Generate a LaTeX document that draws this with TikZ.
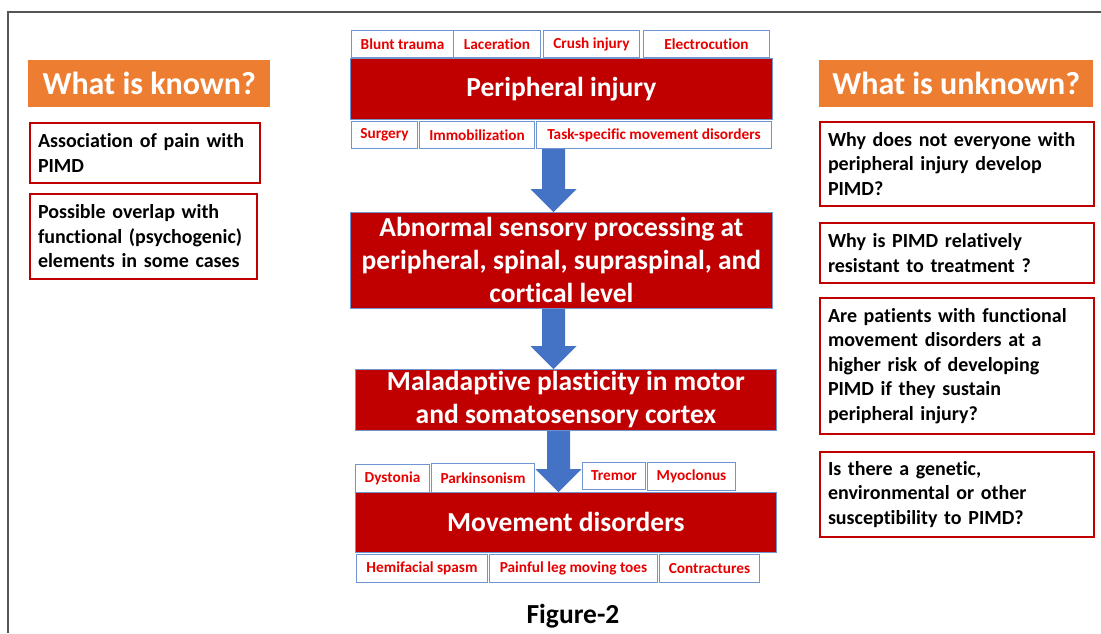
\documentclass[tikz,border=0pt]{standalone}
\usepackage{fontspec}
\setmainfont{Carlito}[Ligatures=NoCommon]
\usetikzlibrary{calc}
\definecolor{boxred}{HTML}{C00000}
\definecolor{sred}{HTML}{E80000}
\definecolor{sbblue}{HTML}{7096D2}
\definecolor{arrowc}{HTML}{4472C4}
\definecolor{orangec}{HTML}{ED7D31}
\definecolor{framegray}{HTML}{555555}
\newcommand{\blockarrow}[3]{%
  \fill[arrowc] let \p1=(#2), \p2=(#3) in
   (#1pt-11.5pt,\y1) -- (#1pt+11.5pt,\y1) -- (#1pt+11.5pt,\y2+23pt) -- (#1pt+23pt,\y2+23pt)
   -- (#1pt,\y2) -- (#1pt-23pt,\y2+23pt) -- (#1pt-11.5pt,\y2+23pt) -- cycle;}
\tikzset{
  smallbox/.style={draw=sbblue, line width=1pt, fill=white, text=sred, font=\fontsize{15.3}{17}\selectfont\bfseries, inner sep=0pt, anchor=north west},
  mainbox/.style={draw=sbblue, line width=0.8pt, fill=boxred, text=white, font=\fontsize{27.5}{33}\selectfont\bfseries, inner sep=0pt, anchor=north west, align=center},
  headbox/.style={fill=orangec, text=white, font=\fontsize{32}{36}\selectfont\bfseries, inner sep=0pt, anchor=north west},
  notebox/.style={draw=boxred, line width=2pt, fill=white, text=black, font=\fontsize{20}{24.5}\selectfont\bfseries, inner xsep=8pt, inner ysep=0pt, anchor=north west, align=left},
}
\begin{document}
\begin{tikzpicture}[x=1pt,y=-1pt]
\useasboundingbox (0,0) rectangle (1101,633);
\draw[framegray, line width=1.5pt] (8,633) -- (8,12) -- (1101,12);
% left
\node[headbox, minimum width=242pt, minimum height=47pt] (known) at (28,60) {What is known?};
\node[notebox, text width=214pt, minimum height=60pt] (k1) at (29,122) {Association of pain with\\PIMD};
\node[notebox, text width=211pt, minimum height=85pt] (k2) at (29,193) {Possible overlap with\\functional (psychogenic)\\elements in some cases};
% right
\node[headbox, minimum width=274pt, minimum height=47pt] (unknown) at (819,60) {What is unknown?};
\node[notebox, text width=258pt, minimum height=84pt] (u1) at (819,121) {Why does not everyone with\\peripheral injury develop\\PIMD?};
\node[notebox, text width=258pt, minimum height=60pt] (u2) at (819,222) {Why is PIMD relatively\\resistant to treatment ?};
\node[notebox, text width=258pt, minimum height=136pt] (u3) at (819,297) {Are patients with functional\\movement disorders at a\\higher risk of developing\\PIMD if they sustain\\peripheral injury?};
\node[notebox, text width=258pt, minimum height=85pt] (u4) at (819,451) {Is there a genetic,\\environmental or other\\susceptibility to PIMD?};
% center top
\node[smallbox, minimum width=102pt, minimum height=27pt] (bt) at (351,30) {Blunt trauma};
\node[smallbox, minimum width=87pt, minimum height=27pt] (lac) at (453,30) {Laceration};
\node[smallbox, minimum width=96pt, minimum height=27pt] (crush) at (543,30) {Crush injury};
\node[smallbox, minimum width=126pt, minimum height=27pt] (elec) at (643,30) {Electrocution};
\node[mainbox, minimum width=422pt, minimum height=61pt] (pi) at (350,58) {Peripheral injury};
\node[smallbox, minimum width=66pt, minimum height=27pt] (surg) at (351,121) {Surgery};
\node[smallbox, minimum width=115pt, minimum height=27pt] (immo) at (419,121) {Immobilization};
\node[smallbox, minimum width=235pt, minimum height=27pt] (task) at (536,121) {Task-specific movement disorders};
\node[mainbox, minimum width=422pt, minimum height=96pt] (ab) at (350,212) {Abnormal sensory processing at\\peripheral, spinal, supraspinal, and\\cortical level};
\node[mainbox, minimum width=421pt, minimum height=61pt] (mal) at (355,369) {Maladaptive plasticity in motor\\and somatosensory cortex};
\node[smallbox, minimum width=74pt, minimum height=28pt] (dys) at (355,464) {Dystonia};
\node[smallbox, minimum width=103pt, minimum height=29pt] (park) at (431,463) {Parkinsonism};
\node[smallbox, minimum width=63pt, minimum height=27pt] (trem) at (582,462) {Tremor};
\node[smallbox, minimum width=88pt, minimum height=28pt] (myo) at (647,462) {Myoclonus};
\node[mainbox, minimum width=421pt, minimum height=60pt] (md) at (355,492) {Movement disorders};
\node[smallbox, minimum width=131pt, minimum height=28pt] (hemi) at (356,554) {Hemifacial spasm};
\node[smallbox, minimum width=168pt, minimum height=28pt] (pain) at (489,554) {Painful leg moving toes};
\node[smallbox, minimum width=100pt, minimum height=28pt] (contr) at (659,554) {Contractures};
\node[font=\fontsize{27.5}{30}\selectfont\bfseries, text=black, inner sep=0pt] (fig) at (573,616) {Figure-2};
% arrows
\blockarrow{553.5}{surg.south}{ab.north}
\blockarrow{553.5}{ab.south}{mal.north}
\blockarrow{558.5}{mal.south}{md.north}
\end{tikzpicture}
\end{document}
